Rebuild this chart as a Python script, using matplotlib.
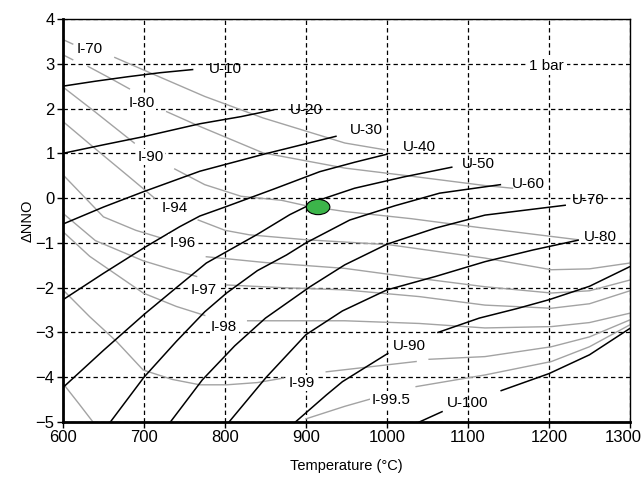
import numpy as np
import matplotlib.pyplot as plt
from matplotlib.patches import Ellipse
from matplotlib.transforms import ScaledTranslation

plt.rcParams['font.family'] = ['Liberation Sans', 'DejaVu Sans']

nan = float('nan')

# ilmenite isopleths (grey), nan = gap in the drawn line
I70_T = [600, 612, nan, 664, 720, 775, 847, 948, 997]
I70_y = [3.54, 3.44, nan, 3.14, 2.70, 2.27, 1.79, 1.23, 1.08]
I80_T = [600, 612, nan, 631, 660, 682, nan, 728, 769, 847, 948, 1034, 1121, 1155]
I80_y = [3.20, 3.09, nan, 2.94, 2.66, 2.44, nan, 1.93, 1.60, 1.01, 0.67, 0.48, 0.28, 0.22]
I90_T = [600, 640, 688, nan, 738, 775, 820, 870, 900, 948, 1030, 1115, 1236]
I90_y = [2.48, 1.92, 1.23, nan, 0.65, 0.30, 0.04, -0.05, -0.17, -0.30, -0.46, -0.66, -0.93]
I94_T = [600, 640, 680, 713, nan, 767, 800, 830, 900, 1002, 1121, 1203, 1250, 1300]
I94_y = [1.71, 1.10, 0.50, 0.0, nan, -0.49, -0.72, -0.82, -0.93, -1.04, -1.34, -1.60, -1.58, -1.45]
I96_T = [600, 625, 650, 690, 721, nan, 777, 850, 948, 1030, 1121, 1203, 1250, 1300]
I96_y = [0.52, 0.05, -0.42, -0.72, -0.89, nan, -1.31, -1.44, -1.57, -1.77, -1.98, -2.12, -2.07, -1.83]
I97_T = [600, 640, 699, 730, 765, nan, 802, 870, 948, 1040, 1121, 1203, 1250, 1300]
I97_y = [-0.34, -0.95, -1.40, -1.57, -1.75, nan, -1.94, -2.00, -2.05, -2.20, -2.39, -2.46, -2.36, -2.07]
I98_T = [600, 633, 699, 740, 775, nan, 828, 948, 1040, 1121, 1203, 1250, 1300]
I98_y = [-0.75, -1.30, -2.12, -2.42, -2.62, nan, -2.74, -2.74, -2.80, -2.90, -2.87, -2.78, -2.57]
I99_T = [600, 633, 666, 699, 735, 769, 802, 840, 872, nan, 925, 1036, nan, 1052, 1121, 1203, 1250, 1300]
I99_y = [-2.05, -2.65, -3.20, -3.84, -4.05, -4.17, -4.17, -4.12, -4.02, nan, -3.88, -3.65, nan, -3.60, -3.54, -3.32, -3.10, -2.72]
I995_T = [600, 620, 637, nan, 900, 948, 983, nan, 1036, 1121, 1203, 1250, 1300]
I995_y = [-4.14, -4.60, -5.0, nan, -4.93, -4.65, -4.47, nan, -4.21, -3.95, -3.65, -3.32, -2.83]

# ulvospinel isopleths (black)
U10_T = [600, 640, 680, 720, 760]
U10_y = [2.50, 2.61, 2.71, 2.80, 2.87]
U20_T = [600, 650, 699, 769, 820, 860]
U20_y = [1.00, 1.19, 1.37, 1.66, 1.82, 1.97]
U30_T = [600, 650, 699, 769, 850, 937]
U30_y = [-0.58, -0.20, 0.14, 0.60, 0.99, 1.38]
U40_T = [600, 650, 700, 744, 769, 800, 860, 917, 960, 1000]
U40_y = [-2.27, -1.68, -1.11, -0.64, -0.40, -0.20, 0.20, 0.59, 0.80, 0.98]
U50_T = [600, 650, 700, 740, 777, 839, 880, 917, 960, 1020, 1080]
U50_y = [-4.23, -3.40, -2.60, -2.00, -1.45, -0.82, -0.37, -0.04, 0.22, 0.47, 0.69]
U60_T = [658.5, 700, 740, 775, 802, 840, 876, 900, 954, 1010, 1065, 1140]
U60_y = [-5.0, -4.0, -3.2, -2.54, -2.12, -1.62, -1.27, -1.0, -0.49, -0.17, 0.11, 0.30]
U70_T = [732.6, 772, 812, 850, 905, 948, 1000, 1060, 1121, 1220]
U70_y = [-5.0, -4.06, -3.30, -2.68, -1.98, -1.49, -1.03, -0.67, -0.38, -0.16]
U80_T = [805, 851, 900, 945, 1000, 1060, 1121, 1180, 1236]
U80_y = [-5.0, -4.0, -3.05, -2.52, -2.05, -1.75, -1.42, -1.16, -0.94]
U90_T = [887, 925, 945, 1001, nan, 1063, 1114, 1160, 1200, 1250, 1300]
U90_y = [-5.0, -4.40, -4.10, -3.47, nan, -3.0, -2.68, -2.47, -2.27, -1.97, -1.53]
U100_T = [1040, 1068, nan, 1141, 1200, 1250, 1300]
U100_y = [-5.0, -4.77, nan, -4.30, -3.92, -3.50, -2.91]

I_curves = [(I70_T, I70_y), (I80_T, I80_y), (I90_T, I90_y), (I94_T, I94_y),
            (I96_T, I96_y), (I97_T, I97_y), (I98_T, I98_y), (I99_T, I99_y),
            (I995_T, I995_y)]
U_curves = [(U10_T, U10_y), (U20_T, U20_y), (U30_T, U30_y), (U40_T, U40_y),
            (U50_T, U50_y), (U60_T, U60_y), (U70_T, U70_y), (U80_T, U80_y),
            (U90_T, U90_y), (U100_T, U100_y)]

I_labels = ['I-70', 'I-80', 'I-90', 'I-94', 'I-96', 'I-97', 'I-98', 'I-99', 'I-99.5']
I_label_T = [633, 697, 708, 738, 748, 774, 799, 895, 1005]
I_label_y = [3.34, 2.13, 0.92, -0.22, -1.0, -2.05, -2.88, -4.13, -4.5]

U_labels = ['U-10', 'U-20', 'U-30', 'U-40', 'U-50', 'U-60', 'U-70', 'U-80', 'U-90', 'U-100']
U_label_T = [800, 900, 975, 1040, 1113, 1175, 1248, 1264, 1028, 1100]
U_label_y = [2.89, 1.97, 1.52, 1.15, 0.77, 0.32, -0.04, -0.87, -3.30, -4.58]

sample_T = 915
sample_y = -0.2

fig = plt.figure(figsize=(6.44, 4.78), dpi=100)
ax = fig.add_axes([0.0978, 0.1172, 0.8804, 0.8431])

for T, y in I_curves:
    ax.plot(np.array(T, dtype=float), np.array(y, dtype=float), color='#a3a3a3', lw=1.0, zorder=2)
for T, y in U_curves:
    ax.plot(np.array(T, dtype=float), np.array(y, dtype=float), color='black', lw=1.1, zorder=3)

for txt, t, y in zip(I_labels, I_label_T, I_label_y):
    ax.text(t, y, txt, ha='center', va='center', fontsize=11, zorder=5,
            bbox=dict(facecolor='white', edgecolor='none', pad=1.0))
for txt, t, y in zip(U_labels, U_label_T, U_label_y):
    ax.text(t, y, txt, ha='center', va='center', fontsize=11, zorder=5)

ax.text(1197, 2.96, '1 bar', ha='center', va='center', fontsize=11, zorder=5,
        bbox=dict(facecolor='white', edgecolor='none', pad=2.0))

ax.add_patch(Ellipse((sample_T, sample_y), 29, 0.34, facecolor='#3cb54a',
                     edgecolor='black', lw=0.8, zorder=6))

ax.set_xlim(600, 1300)
ax.set_ylim(-5, 4)
ax.set_xticks(range(600, 1301, 100))
ax.set_yticks(range(-5, 5))
ax.grid(True, color='black', linestyle=(0, (3.5, 2.5)), lw=0.9)
ax.set_axisbelow(True)
ax.tick_params(direction='out', length=4, width=1, labelsize=12, pad=2)

# last x tick label pulled inside the figure, as in the reference
last = ax.get_xticklabels()[-1]
last.set_transform(last.get_transform() + ScaledTranslation(-0.07, 0, fig.dpi_scale_trans))

for side in ['left', 'bottom']:
    ax.spines[side].set_linewidth(2)
for side in ['top', 'right']:
    ax.spines[side].set_linewidth(1)

ax.set_xlabel('Temperature (°C)', fontsize=10.5, labelpad=10)
ax.set_ylabel('ΔNNO', fontsize=10.5, labelpad=1)

fig.savefig('out.png', dpi=100)
